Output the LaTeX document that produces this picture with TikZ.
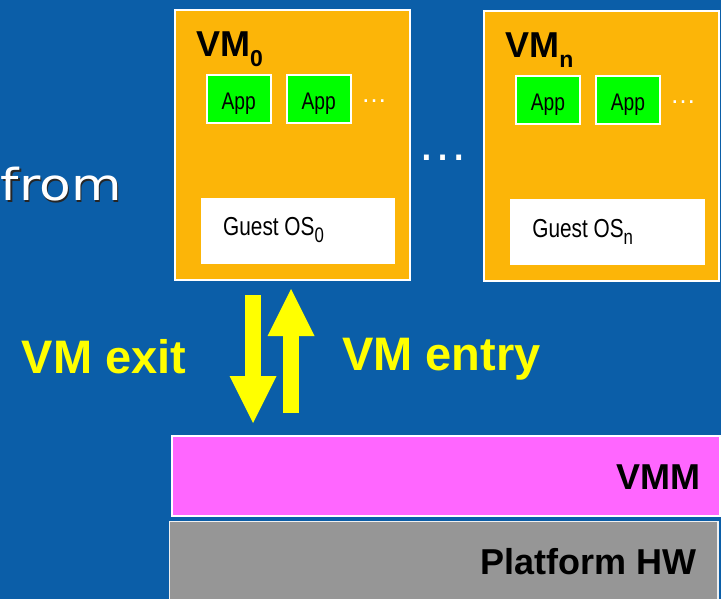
\documentclass[tikz,border=0pt]{standalone}
\usepackage{fontspec}
\setmainfont{Liberation Sans}
\newfontfamily\narrowsans[FakeStretch=0.8]{Liberation Sans}
\newfontfamily\widesans[FakeStretch=1.18]{DejaVu Sans}
\usetikzlibrary{arrows.meta,calc}

\definecolor{slideblue}{RGB}{11,94,168}
\definecolor{vmorange}{RGB}{252,181,8}
\definecolor{appgreen}{RGB}{0,255,0}
\definecolor{vmmpink}{RGB}{255,102,255}
\definecolor{hwgray}{RGB}{150,150,150}
\definecolor{arrowyellow}{RGB}{255,255,0}

\tikzset{
  vmbox/.style={draw=white, line width=2pt, fill=vmorange, inner sep=0pt, outer sep=0pt,
    minimum width=235pt, minimum height=270pt, anchor=north west},
  appbox/.style={draw=white, line width=2pt, fill=appgreen, inner sep=0pt, outer sep=0pt,
    minimum width=64pt, minimum height=48pt, text height=22pt, text depth=0pt,
    font=\narrowsans\fontsize{24}{26}\selectfont},
  osbox/.style={fill=white, inner sep=0pt, outer sep=0pt,
    minimum width=194.6pt, minimum height=66.3pt},
  ostext/.style={anchor=base west, inner sep=0pt, font=\narrowsans\fontsize{26}{28}\selectfont},
  vmlabel/.style={anchor=base west, inner sep=0pt, font=\bfseries\fontsize{36}{40}\selectfont},
  smalldots/.style={anchor=base, inner sep=0pt, text=white, font=\fontsize{26}{28}\selectfont},
  bigdots/.style={anchor=base, inner sep=0pt, text=white, font=\fontsize{51}{54}\selectfont},
  layerbox/.style={anchor=north west, inner sep=0pt, outer sep=0pt},
  layertext/.style={anchor=base east, inner sep=0pt, font=\bfseries\fontsize{36}{40}\selectfont},
  bigarrow/.style={draw=arrowyellow, line width=16pt,
    -{Triangle[length=47pt, width=47pt, line width=0pt]}},
  arrowtext/.style={anchor=base west, inner sep=0pt, text=arrowyellow,
    font=\bfseries\fontsize{47}{50}\selectfont},
}

% one virtual machine: name, top-left corner, subscript
\newcommand{\vmblock}[4]{%
  \node[vmbox] (#1) at (#2,#3) {};
  \node[appbox] (#1-app1) at ($(#1.north west)+(64.2,89)$) {App};
  \node[appbox] (#1-app2) at ($(#1.north west)+(144.2,89)$) {App};
  \node[smalldots] (#1-more) at ($(#1.north west)+(199.5,93)$) {…};
  \node[osbox] (#1-os) at ($(#1.north west)+(123.5,220.85)$) {};
  \node[ostext] (#1-ostext) at ($(#1.north west)+(48.5,226)$)
    {Guest OS\raisebox{-7pt}{\fontsize{21}{22}\selectfont #4}};
  \node[vmlabel] (#1-label) at ($(#1.north west)+(21.5,47)$)
    {VM\raisebox{-10pt}{\fontsize{23}{24}\selectfont #4}};
}

\begin{document}
\begin{tikzpicture}[x=1pt, y=-1pt]
  \useasboundingbox (0,0) rectangle (721,599);
  \fill[slideblue] (0,0) rectangle (721,599);

  % text partly outside the frame, with its drop shadow
  \node[anchor=base east, inner sep=0pt, text=white,
        font=\widesans\fontsize{44}{46}\selectfont] (from) at (122,201)
    {\rlap{\kern1.5pt\raisebox{-1.5pt}{\color{black!85}from}}from};

  % virtual machines
  \vmblock{vm0}{174.5}{10}{0}
  \vmblock{vmn}{483.7}{11}{n}
  \node[bigdots] (between) at (443,161) {…};

  % layers below
  \node[layerbox, draw=white, line width=2pt, fill=vmmpink,
        minimum width=547.5pt, minimum height=80pt] (vmm) at (172,436) {};
  \node[layerbox, draw=white!88!gray, line width=1.5pt, fill=hwgray,
        minimum width=548.7pt, minimum height=100pt] (hw) at (169.3,521.7) {};
  \node[layertext] (vmm-text) at ($(vmm.north east)+(-18.5,53)$) {VMM};
  \node[layertext] (hw-text) at ($(hw.north east)+(-21,52.3)$) {Platform HW};

  % transitions between guest and monitor
  \draw[bigarrow] ($(vm0.south)+(-39,15)$) -- ($(vm0.south)+(-39,143)$);
  \draw[bigarrow] ($(vm0.south)+(-1,133)$) -- ($(vm0.south)+(-1,9)$);
  \node[arrowtext] (exit-text) at (21.5,373) {VM exit};
  \node[arrowtext] (entry-text) at (342,370) {VM entry};
\end{tikzpicture}
\end{document}
